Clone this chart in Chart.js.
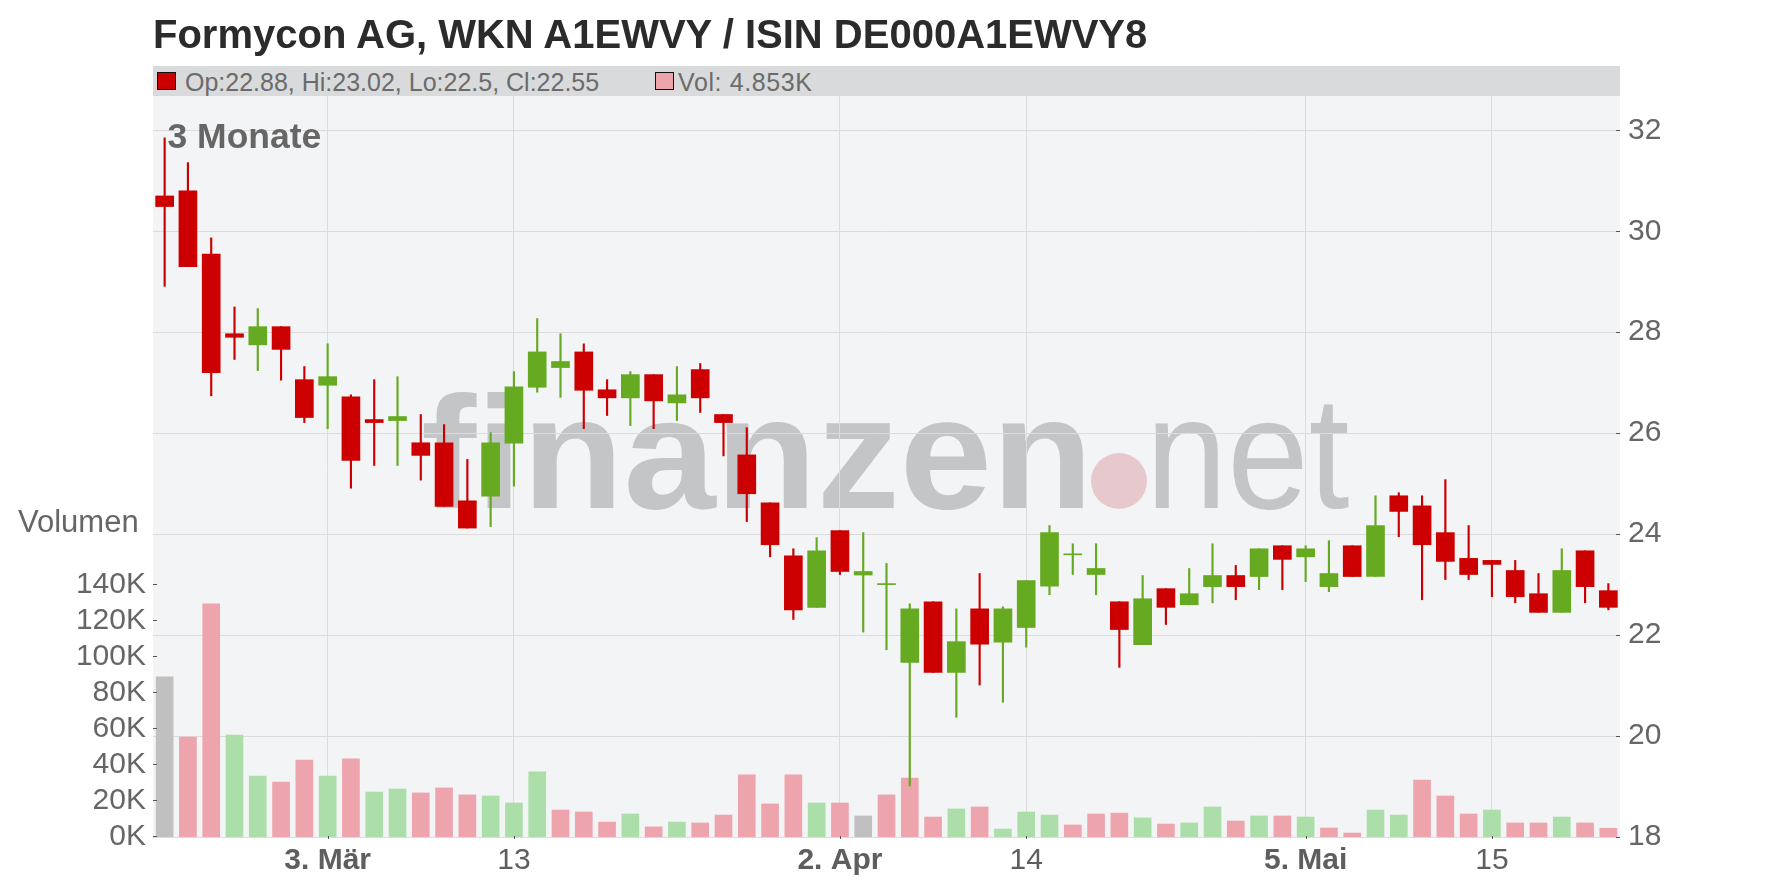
<!DOCTYPE html>
<html>
<head>
<meta charset="utf-8">
<title>Formycon AG – 3 Monate</title>
<script src="https://cdn.jsdelivr.net/npm/chart.js@4.4.1/dist/chart.umd.min.js"></script>
<style>
  html, body { margin: 0; padding: 0; background: #fff; }
  #wrap { position: relative; width: 1776px; height: 888px; overflow: hidden;
          font-family: 'Liberation Sans', Arial, sans-serif; }
  #chart { position: absolute; left: 0; top: 0; }
  .txt { position: absolute; line-height: 1; white-space: nowrap; }
  #title { left: 153px; top: 14px; font-size: 40px; font-weight: bold; color: #2b2b2b; }
  #infobar { position: absolute; left: 153px; top: 66px; width: 1467px; height: 30px; background: #d9dadb; }
  .swatch { position: absolute; top: 72px; width: 19px; height: 18px; box-sizing: border-box; border: 1px solid #111; }
  #swPrice { left: 157px; background: #cc0000; }
  #swVol { left: 655px; background: #eea4ad; }
  #infoPrice { left: 185px; top: 69.5px; font-size: 25px; color: #6b6b6b; }
  #infoVol { left: 678px; top: 69.5px; font-size: 25px; color: #6b6b6b; letter-spacing: 0.6px; }
  #volLabel { left: 18px; top: 505.5px; font-size: 31px; color: #666; }
  #period { left: 167.5px; top: 118.5px; font-size: 35.5px; font-weight: bold; color: #666; }
</style>
</head>
<body>
<div id="wrap">
  <canvas id="chart" width="1776" height="888"></canvas>
  <div id="title" class="txt">Formycon AG, WKN A1EWVY / ISIN DE000A1EWVY8</div>
  <div id="infobar"></div>
  <div id="swPrice" class="swatch"></div>
  <div id="infoPrice" class="txt"></div>
  <div id="swVol" class="swatch"></div>
  <div id="infoVol" class="txt"></div>
  <div id="volLabel" class="txt">Volumen</div>
  <div id="period" class="txt">3 Monate</div>
</div>
<script>
// trading days, 20.02.2025 - 22.05.2025
const dates = [
  '2025-02-20','2025-02-21','2025-02-24','2025-02-25','2025-02-26','2025-02-27','2025-02-28',
  '2025-03-03','2025-03-04','2025-03-05','2025-03-06','2025-03-07','2025-03-10','2025-03-11',
  '2025-03-12','2025-03-13','2025-03-14','2025-03-17','2025-03-18','2025-03-19','2025-03-20',
  '2025-03-21','2025-03-24','2025-03-25','2025-03-26','2025-03-27','2025-03-28','2025-03-31',
  '2025-04-01','2025-04-02','2025-04-03','2025-04-04','2025-04-07','2025-04-08','2025-04-09',
  '2025-04-10','2025-04-11','2025-04-14','2025-04-15','2025-04-16','2025-04-17','2025-04-22',
  '2025-04-23','2025-04-24','2025-04-25','2025-04-28','2025-04-29','2025-04-30','2025-05-02',
  '2025-05-05','2025-05-06','2025-05-07','2025-05-08','2025-05-09','2025-05-12','2025-05-13',
  '2025-05-14','2025-05-15','2025-05-16','2025-05-19','2025-05-20','2025-05-21','2025-05-22'
];

const opens = [
  30.70, 30.80, 29.55, 27.97, 27.75, 28.11, 27.06, 26.95, 26.72, 26.27,
  26.25, 25.81, 25.81, 24.66, 24.75, 25.80, 26.91, 27.30, 27.61, 26.86,
  26.70, 27.16, 26.60, 27.26, 26.37, 25.57, 24.62, 23.57, 22.55, 24.07,
  23.19, 23.00, 21.46, 22.66, 21.26, 22.52, 21.86, 22.15, 22.97, 23.59,
  23.20, 22.66, 21.81, 22.92, 22.60, 22.96, 23.18, 23.16, 23.77, 23.55,
  22.96, 23.77, 23.16, 24.76, 24.56, 24.03, 23.52, 23.48, 23.28, 22.82,
  22.45, 23.67, 22.88
];
const highs = [
  31.85, 31.36, 29.87, 28.50, 28.47, 28.11, 27.32, 27.77, 26.76, 27.06,
  27.12, 26.37, 26.17, 25.48, 26.01, 27.22, 28.27, 27.97, 27.77, 27.06,
  27.22, 27.16, 27.32, 27.38, 26.37, 26.11, 24.62, 23.71, 23.93, 24.07,
  24.03, 23.42, 22.62, 22.66, 22.52, 23.22, 22.56, 23.08, 24.17, 23.81,
  23.81, 22.66, 23.18, 22.92, 23.32, 23.81, 23.38, 23.71, 23.77, 23.77,
  23.87, 23.77, 24.76, 24.82, 24.76, 25.08, 24.17, 23.48, 23.48, 23.22,
  23.71, 23.67, 23.02
];
const lows = [
  28.91, 29.30, 26.74, 27.46, 27.24, 27.05, 26.21, 26.09, 24.91, 25.36,
  25.36, 25.07, 24.55, 24.12, 24.15, 24.95, 26.81, 26.71, 26.09, 26.35,
  26.15, 26.09, 26.25, 26.41, 25.55, 24.25, 23.55, 22.31, 22.55, 23.20,
  22.06, 21.71, 19.01, 21.26, 20.37, 21.01, 20.67, 21.76, 22.80, 23.20,
  22.80, 21.36, 21.81, 22.21, 22.60, 22.64, 22.70, 22.90, 22.90, 23.06,
  22.86, 23.16, 23.16, 23.95, 22.70, 23.10, 23.10, 22.76, 22.64, 22.45,
  22.45, 22.64, 22.50
];
const closes = [
  30.49, 29.30, 27.20, 27.90, 28.11, 27.66, 26.31, 27.12, 25.46, 26.21,
  26.33, 25.56, 24.55, 24.12, 25.81, 26.92, 27.61, 27.42, 26.85, 26.70,
  27.16, 26.64, 26.76, 26.70, 26.21, 24.80, 23.79, 22.50, 23.67, 23.26,
  23.26, 23.02, 22.52, 21.26, 21.87, 21.82, 22.52, 23.08, 24.03, 23.60,
  23.32, 22.11, 22.72, 22.55, 22.82, 23.18, 22.96, 23.71, 23.50, 23.71,
  23.22, 23.16, 24.17, 24.45, 23.79, 23.46, 23.20, 23.40, 22.76, 22.45,
  23.28, 22.96, 22.55
];
const volumes = [
  89000, 55600, 129600, 56700, 33900, 30600, 42800, 33900, 43400, 25000,
  26700, 24500, 27300, 23400, 22800, 18900, 36200, 15000, 13900, 8300,
  12800, 5600, 8300, 7800, 12200, 34500, 18400, 34500, 18900, 18900,
  11700, 23400, 32800, 11100, 15600, 16700, 4400, 13900, 12200, 6700,
  12800, 13300, 10600, 7200, 7800, 16700, 8900, 11700, 11700, 11100,
  5000, 2200, 15000, 12200, 31700, 22800, 12800, 15000, 7800, 7800,
  11100, 7800, 4853
];

const tickDates = ['2025-03-03', '2025-03-13', '2025-04-02', '2025-04-14', '2025-05-05', '2025-05-15'];
const tickLabels = ['3. Mär', '13', '2. Apr', '14', '5. Mai', '15'];
const boldLabels = ['3. Mär', '2. Apr', '5. Mai'];
const priceTicks = [18, 20, 22, 24, 26, 28, 30, 32];
const volumeTicks = [0, 20000, 40000, 60000, 80000, 100000, 120000, 140000];

const RED = '#cc0000', GREEN = '#66aa22';
const VOL_DOWN = '#eea4ad', VOL_UP = '#acdeaa', VOL_FLAT = '#c0c0c0';

const candleColors = dates.map((_, i) => closes[i] >= opens[i] ? GREEN : RED);
const volColors = dates.map((_, i) => {
    if (i === 0 || closes[i] === closes[i - 1]) return VOL_FLAT;
    return closes[i] > closes[i - 1] ? VOL_UP : VOL_DOWN;
});

function labelAt(i) {
    const k = tickDates.indexOf(dates[i]);
    return k < 0 ? '' : tickLabels[k];
}

// header line with the last candle
const last = dates.length - 1;
document.getElementById('infoPrice').textContent =
    `Op:${opens[last]}, Hi:${highs[last]}, Lo:${lows[last]}, Cl:${closes[last]}`;
document.getElementById('infoVol').textContent = `Vol: ${(volumes[last] / 1000).toFixed(3)}K`;

function fillFitted(ctx, text, font, x0, x1, baseline) {
    ctx.font = font;
    const m = ctx.measureText(text);
    const ink = m.actualBoundingBoxLeft + m.actualBoundingBoxRight;
    const sx = (x1 - x0) / ink;
    ctx.save();
    ctx.translate(x0 + m.actualBoundingBoxLeft * sx, baseline);
    ctx.scale(sx, 1);
    ctx.fillText(text, 0, 0);
    ctx.restore();
}

const backdrop = {
    id: 'backdrop',
    beforeDraw(chart) {
        const { ctx, chartArea: a } = chart;
        ctx.save();
        ctx.fillStyle = '#f3f4f6';
        ctx.fillRect(a.left, a.top, a.right - a.left, a.bottom - a.top);
        // watermark
        ctx.fillStyle = '#c4c5c7';
        ctx.textBaseline = 'alphabetic';
        fillFitted(ctx, 'finanzen', 'bold 160px "Liberation Sans"', 423, 1083, 508);
        fillFitted(ctx, 'net', '160px "Liberation Sans"', 1155, 1349, 508);
        ctx.fillStyle = '#e7c9cd';
        ctx.beginPath();
        ctx.arc(1119, 481, 28, 0, Math.PI * 2);
        ctx.fill();
        ctx.restore();
    },
    afterDraw(chart) {
        const { ctx, chartArea: a, scales } = chart;
        ctx.save();
        ctx.strokeStyle = '#555';
        ctx.lineWidth = 1;
        ctx.beginPath();
        priceTicks.forEach(v => {
            const y = Math.round(scales.yPrice.getPixelForValue(v)) + 0.5;
            ctx.moveTo(a.right - 4, y); ctx.lineTo(a.right, y);
        });
        volumeTicks.forEach(v => {
            const y = Math.round(scales.yVol.getPixelForValue(v)) - 0.5;
            ctx.moveTo(a.left, y); ctx.lineTo(a.left + 4, y);
        });
        tickDates.forEach(d => {
            const x = Math.round(scales.x.getPixelForValue(dates.indexOf(d))) + 0.5;
            ctx.moveTo(x, a.bottom - 1); ctx.lineTo(x, a.bottom + 2);
        });
        ctx.stroke();
        ctx.restore();
    }
};

Chart.defaults.font.family = "'Liberation Sans', Arial, sans-serif";

new Chart(document.getElementById('chart'), {
    type: 'bar',
    data: {
        labels: dates,
        datasets: [
            {
                label: 'Volumen',
                data: volumes,
                yAxisID: 'yVol',
                backgroundColor: volColors,
                barThickness: 17,
                grouped: false,
                order: 3
            },
            {
                label: 'Hoch/Tief',
                data: dates.map((_, i) => [lows[i], highs[i]]),
                yAxisID: 'yPrice',
                backgroundColor: candleColors,
                barThickness: 1.5,
                grouped: false,
                order: 2
            },
            {
                label: 'Eröffnung/Schluss',
                data: dates.map((_, i) => [opens[i], closes[i]]),
                yAxisID: 'yPrice',
                backgroundColor: candleColors,
                barThickness: 18,
                minBarLength: 1,
                grouped: false,
                order: 1
            }
        ]
    },
    options: {
        responsive: false,
        animation: false,
        devicePixelRatio: 1,
        layout: { padding: { top: 96, left: 0, right: 0, bottom: 0 } },
        plugins: {
            legend: { display: false },
            tooltip: { enabled: false }
        },
        scales: {
            x: {
                offset: true,
                border: { display: false },
                grid: {
                    offset: false,
                    drawTicks: false,
                    color: c => labelAt(c.index) ? '#dcdcdc' : 'rgba(0,0,0,0)'
                },
                ticks: {
                    autoSkip: false,
                    maxRotation: 0,
                    padding: 6,
                    color: '#5e5e5e',
                    callback: (v, i) => labelAt(i),
                    font: c => ({
                        size: 30,
                        weight: boldLabels.includes(labelAt(c.index)) ? 'bold' : 'normal'
                    })
                },
                afterFit: s => { s.height = 51; }
            },
            yPrice: {
                position: 'right',
                min: 18,
                max: 32.68,
                border: { display: false },
                grid: { color: '#dcdcdc', drawTicks: false },
                ticks: { padding: 8, color: '#666', font: { size: 30 } },
                afterBuildTicks: s => { s.ticks = priceTicks.map(v => ({ value: v })); },
                afterFit: s => { s.width = 156; }
            },
            yVol: {
                position: 'left',
                min: 0,
                max: 412000,
                border: { display: false },
                grid: { display: false, drawTicks: false },
                ticks: {
                    padding: 7,
                    color: '#666',
                    font: { size: 30 },
                    callback: v => (v / 1000) + 'K'
                },
                afterBuildTicks: s => { s.ticks = volumeTicks.map(v => ({ value: v })); },
                afterFit: s => { s.width = 153; }
            }
        }
    },
    plugins: [backdrop]
});
</script>
</body>
</html>
